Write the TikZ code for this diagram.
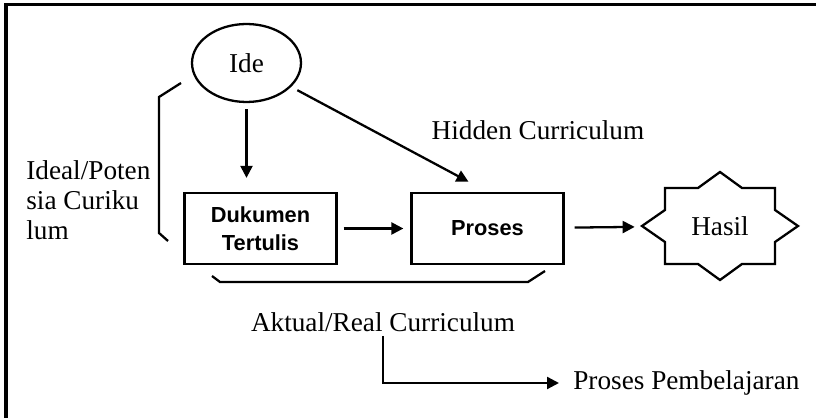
\documentclass[tikz,border=0pt]{standalone}
\usepackage{fontspec}
\setmainfont{Liberation Serif}
\setsansfont{Liberation Sans}
\usetikzlibrary{arrows.meta,shapes.geometric}
\tikzset{
  lbl/.style={font=\fontsize{15.5}{17}\selectfont, inner sep=0pt},
  box/.style={draw, line width=1.3pt, minimum width=3.04cm, minimum height=1.42cm, align=center, font=\fontsize{12.4}{15.9}\selectfont\sffamily\bfseries},
  arr/.style={line width=1.3pt, -{Triangle[length=0.24cm, width=0.24cm]}},
  brace/.style={line width=1.3pt}
}
\begin{document}
\begin{tikzpicture}[x=0.02cm, y=-0.02cm]
\useasboundingbox (0,0) rectangle (816,418);
\draw[line width=1.8pt] (6,418)--(6,4.5)--(816,4.5);
\node[draw, ellipse, line width=1.3pt, minimum width=2.18cm, minimum height=1.56cm, lbl] (ide) at (246.5,63) {Ide};
\node[box] (duk) at (260.5,228.5) {Dukumen\\Tertulis};
\node[box] (pro) at (487.5,228.5) {Proses};
\node[lbl, minimum width=3.12cm, minimum height=2.16cm] (hasil) at (720,226) {Hasil};
\draw[line width=1.3pt, shift={(hasil.center)}] (0,-54)--(22,-38)--(55,-38)--(55,-16)--(78,0)--(55,16)--(55,38)--(22,38)--(0,54)--(-22,38)--(-55,38)--(-55,16)--(-78,0)--(-55,-16)--(-55,-38)--(-22,-38)--cycle;
\node[lbl] (hidden) at (538,130) {Hidden Curriculum};
\node[lbl, align=left, anchor=west] (ideal) at (26,200) {Ideal/Poten\\sia Curiku\\lum};
\node[lbl] (aktual) at (383,322) {Aktual/Real Curriculum};
\node[lbl, anchor=west] (pemb) at (573,383) {Proses Pembelajaran};
% arrows
\draw[arr, shorten <=0.12cm, shorten >=0.28cm] (ide.south)--(ide.south |- duk.north);
\draw[arr, shorten <=0.14cm, shorten >=0.43cm] (ide)--(pro.north);
\draw[arr, shorten <=0.12cm, shorten >=0.14cm] (duk)--(pro);
\draw[arr, shorten <=0.2cm, shorten >=0.14cm] (pro)--(hasil);
\draw[arr, shorten <=0.08cm, shorten >=0.28cm] (aktual.south)|-(pemb.west);
% brackets
\draw[brace] (181,83)--(159,97)--(159,233)--(168,241);
\draw[brace] (212,276)--(220,282)--(528,282)--(545,271);
\end{tikzpicture}
\end{document}
